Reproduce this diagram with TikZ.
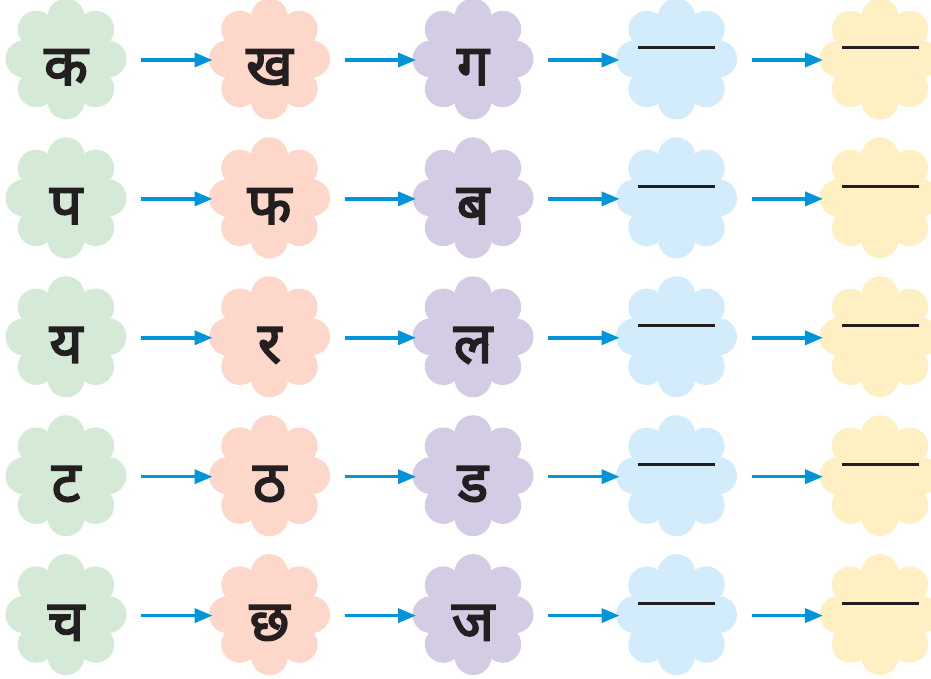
\documentclass[tikz,border=0pt]{standalone}
\usepackage{fontspec}
\newfontfamily\devafont[Script=Devanagari, FakeBold=3]{Noto Sans}
\usetikzlibrary{arrows.meta, positioning, calc}
\definecolor{leafgreen}{HTML}{D4E9D6}
\definecolor{leafpink}{HTML}{FDD7C9}
\definecolor{leafpurple}{HTML}{D4CBE5}
\definecolor{leafblue}{HTML}{D2ECFB}
\definecolor{leafyellow}{HTML}{FFF0C3}
\definecolor{arrowblue}{HTML}{0094D8}
\definecolor{ink}{HTML}{231F20}

\begin{document}
\begin{tikzpicture}[x=1pt, y=-1pt,
    letter/.style={font=\devafont\fontsize{57}{57}\selectfont, text=ink,
      inner sep=0pt, anchor=base},
    flow/.style={draw=arrowblue, line width=3.5pt, -{Triangle[length=18pt, width=14pt]}},
    blank/.style={draw=ink, line width=3pt}]
  \useasboundingbox (0,0) rectangle (931,679);
  % --- flowers: a disc with eight petals ------------------------------
  \foreach \row in {1,...,5} {
    \foreach \col/\shade in {1/leafgreen, 2/leafpink, 3/leafpurple, 4/leafblue, 5/leafyellow} {
      \coordinate (f\row\col) at ({66+203.5*(\col-1)}, {59+138.9*(\row-1)});
      \fill[\shade] (f\row\col) circle (42pt);
      \foreach \a in {0,45,...,315}
        \fill[\shade] (f\row\col) ++(\a:42pt) circle (18.5pt);
    }
  }
  % --- letters in the first three columns ------------------------------
  \foreach \row/\la/\lb/\lc in {1/क/ख/ग, 2/प/फ/ब, 3/य/र/ल, 4/ट/ठ/ड, 5/च/छ/ज} {
    \node[letter] (a\row) at ($(f\row1)+(0,26)$) {\la};
    \node[letter] (b\row) at ($(f\row2)+(0,26)$) {\lb};
    \node[letter] (c\row) at ($(f\row3)+(0,26)$) {\lc};
  }
  % --- blanks to fill in -----------------------------------------------
  \foreach \row in {1,...,5} {
    \draw[blank] ($(f\row4)+(-38.5,-11)$) -- ($(f\row4)+(38.5,-11)$);
    \draw[blank] ($(f\row5)+(-38.5,-11)$) -- ($(f\row5)+(38.5,-11)$);
  }
  % --- arrows between the flowers --------------------------------------
  \foreach \row in {1,...,5}
    \foreach \col [count=\nxt from 2] in {1,...,4}
      \draw[flow] ($(f\row\col)+(75,1)$) -- ($(f\row\nxt)+(-57,1)$);
\end{tikzpicture}
\end{document}
